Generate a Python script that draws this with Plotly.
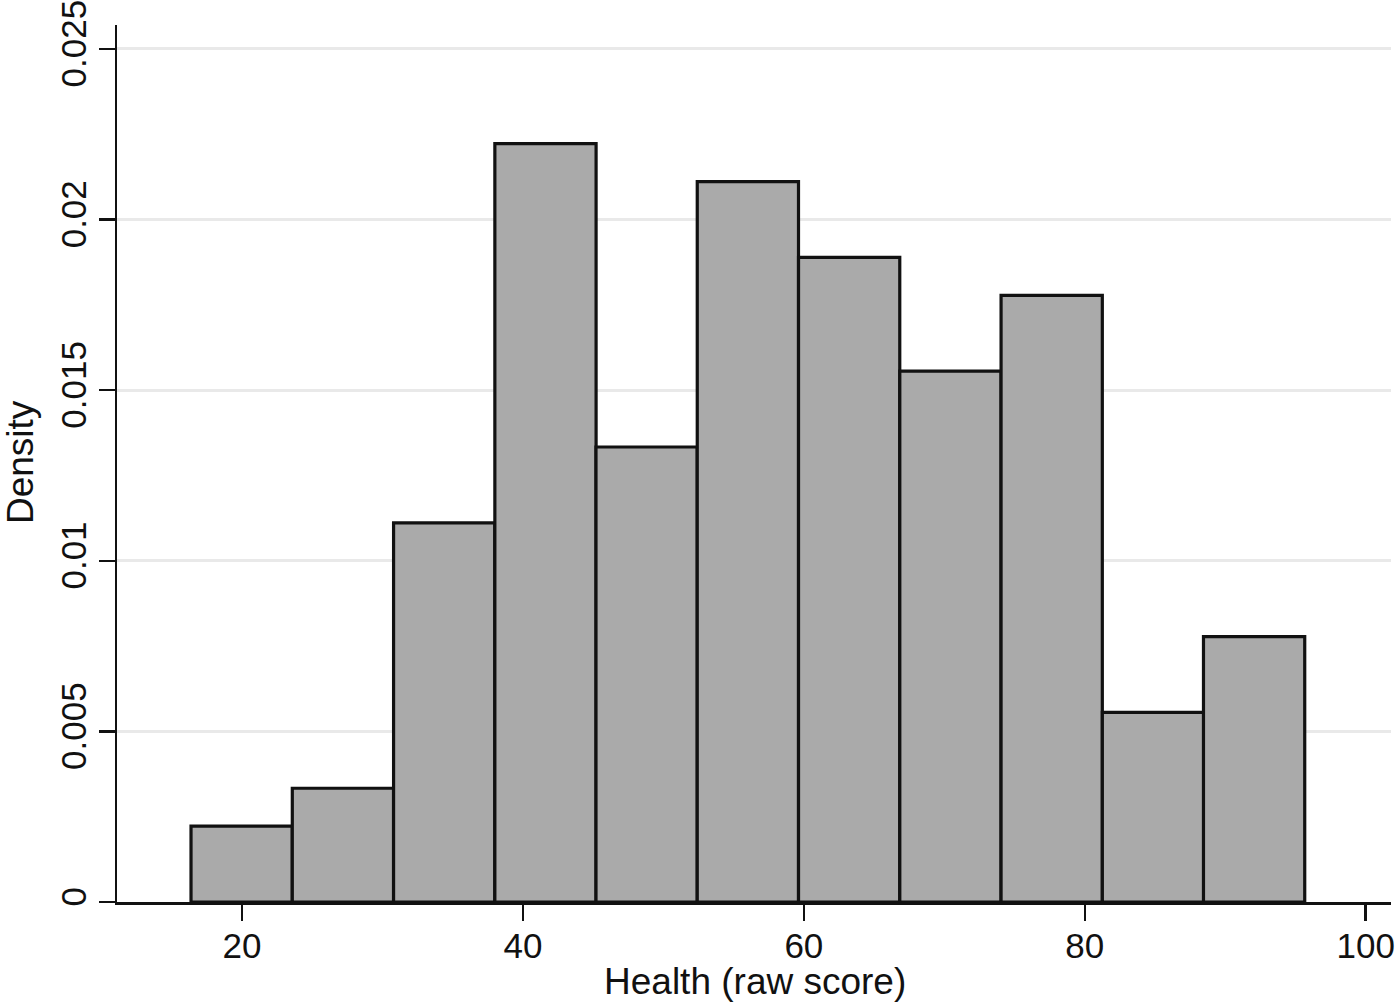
import plotly.graph_objects as go

bin_left = [16.37, 23.58, 30.79, 38.0, 45.20, 52.41, 59.62, 66.83, 74.04, 81.25, 88.45]
bin_width = 7.208
density = [0.002222, 0.003333, 0.011111, 0.022222, 0.013333, 0.021111,
           0.018889, 0.015556, 0.017778, 0.005556, 0.007778]

x_ticks = [20, 40, 60, 80, 100]
y_ticks = [0, 0.005, 0.01, 0.015, 0.02, 0.025]
y_tick_labels = ["0", "0.005", "0.01", "0.015", "0.02", "0.025"]
x_title = "Health (raw score)"
y_title = "Density"

centers = [b + bin_width / 2 for b in bin_left]

fig = go.Figure(go.Bar(
    x=centers, y=density, width=[bin_width] * len(centers),
    marker=dict(color="#aaaaaa", line=dict(color="#111111", width=3.2)),
    hoverinfo="skip",
))

tick_font = dict(family="Liberation Sans, Arial, sans-serif", size=35, color="#111111")
title_font = dict(family="Liberation Sans, Arial, sans-serif", size=37, color="#111111")

fig.update_layout(
    width=1400, height=1002,
    margin=dict(l=117, r=9, t=25, b=100),
    paper_bgcolor="white", plot_bgcolor="white",
    showlegend=False, bargap=0,
    font=tick_font,
    xaxis=dict(
        range=[11.1, 101.8], tickvals=x_ticks, ticks="outside", ticklen=16,
        tickwidth=2.5, tickcolor="#111111", showline=True, linecolor="#111111",
        linewidth=2.5, showgrid=False, zeroline=False, automargin=False,
        ticklabeloverflow="allow", ticklabelstandoff=-5,
        tickfont=tick_font,
    ),
    yaxis=dict(
        range=[0, 0.0257], tickvals=y_ticks, ticktext=y_tick_labels,
        tickangle=-90, ticks="outside", ticklen=16, tickwidth=2.5,
        tickcolor="#111111", showline=True, linecolor="#111111", linewidth=2.5,
        showgrid=True, gridcolor="#e9e9e9", gridwidth=3, zeroline=False,
        automargin=False, ticklabeloverflow="allow", ticklabelstandoff=-1,
        tickfont=tick_font,
    ),
    annotations=[
        dict(text=x_title, xref="paper", yref="paper", x=0.5008, y=-0.0912,
             xanchor="center", yanchor="middle", showarrow=False, font=title_font),
        dict(text=y_title, xref="paper", yref="paper", x=-0.0761, y=0.5017,
             xanchor="center", yanchor="middle", showarrow=False, textangle=-90,
             font=title_font),
    ],
)

fig.write_html(
    "out.html",
    config={"displayModeBar": False, "staticPlot": True},
    post_script="document.body.style.margin='0';document.body.style.overflow='hidden';",
)
